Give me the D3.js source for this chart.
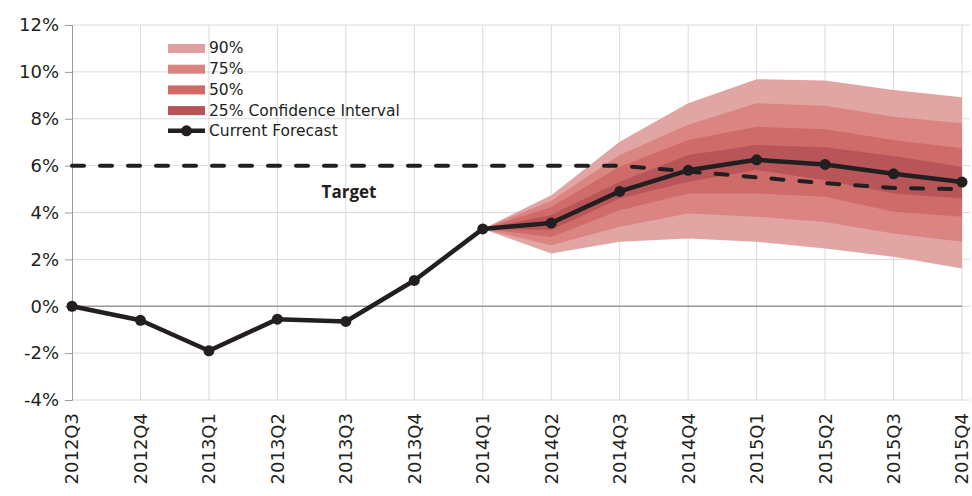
<!DOCTYPE html>
<html>
<head>
<meta charset="utf-8">
<script src="https://cdn.jsdelivr.net/npm/d3@7"></script>
<style>
  body { margin: 0; background: #fff; }
  svg { display: block; }
</style>
</head>
<body>
<div id="chart"></div>
<script>
(function () {
  'use strict';

  // Quarters on the x axis
  var quarters = ['2012Q3', '2012Q4', '2013Q1', '2013Q2', '2013Q3', '2013Q4', '2014Q1',
    '2014Q2', '2014Q3', '2014Q4', '2015Q1', '2015Q2', '2015Q3', '2015Q4'];

  var yTicks = [-4, -2, 0, 2, 4, 6, 8, 10, 12];

  // Current forecast (%)
  var forecast = [0, -0.6, -1.9, -0.55, -0.65, 1.1, 3.3, 3.55, 4.9, 5.8, 6.25, 6.05, 5.65, 5.3];
  // Target (%)
  var target = [6, 6, 6, 6, 6, 6, 6, 6, 6, 5.75, 5.5, 5.25, 5.05, 5.0];

  // Fan bands, 2014Q1 .. 2015Q4
  var fanQuarters = quarters.slice(6);
  var band90Upper = [3.3, 4.74, 7.02, 8.66, 9.69, 9.63, 9.23, 8.92];
  var band75Upper = [3.3, 4.5, 6.45, 7.74, 8.66, 8.55, 8.09, 7.81];
  var band50Upper = [3.3, 4.24, 5.95, 7.09, 7.66, 7.55, 7.09, 6.74];
  var band25Upper = [3.3, 3.89, 5.31, 6.45, 6.88, 6.78, 6.41, 5.95];
  var band25Lower = [3.3, 3.25, 4.6, 5.31, 5.81, 5.38, 4.81, 4.6];
  var band50Lower = [3.3, 2.96, 4.1, 4.81, 4.81, 4.67, 4.03, 3.82];
  var band75Lower = [3.3, 2.6, 3.39, 3.96, 3.82, 3.6, 3.1, 2.75];
  var band90Lower = [3.3, 2.25, 2.75, 2.89, 2.75, 2.46, 2.11, 1.61];

  var bands = [
    { label: '90%', color: '#dfa09f', upper: band90Upper, lower: band90Lower },
    { label: '75%', color: '#d9837f', upper: band75Upper, lower: band75Lower },
    { label: '50%', color: '#cf6a67', upper: band50Upper, lower: band50Lower },
    { label: '25% Confidence Interval', color: '#b65457', upper: band25Upper, lower: band25Lower }
  ];

  var W = 972, H = 496;
  var axisFont = '"DejaVu Sans", sans-serif';
  var ink = '#231f20';

  var svg = d3.select('#chart').append('svg').attr('width', W).attr('height', H);

  var x = d3.scalePoint().domain(quarters).range([72, 962]);
  var y = d3.scaleLinear().domain([-4, 12]).range([400, 25]);

  // Grid
  var grid = svg.append('g');
  grid.selectAll('.hg').data(yTicks).enter().append('line')
    .attr('x1', 72).attr('x2', 970)
    .attr('y1', function (d) { return y(d); }).attr('y2', function (d) { return y(d); })
    .attr('stroke', '#dadada').attr('stroke-width', 1);
  grid.selectAll('.vg').data(quarters.slice(1)).enter().append('line')
    .attr('x1', function (d) { return x(d); }).attr('x2', function (d) { return x(d); })
    .attr('y1', y(12)).attr('y2', y(-4))
    .attr('stroke', '#dadada').attr('stroke-width', 1);

  // Fan bands
  bands.forEach(function (b) {
    var area = d3.area()
      .x(function (d, i) { return x(fanQuarters[i]); })
      .y0(function (d, i) { return y(b.lower[i]); })
      .y1(function (d) { return y(d); });
    svg.append('path').datum(b.upper)
      .attr('d', area).attr('fill', b.color).attr('opacity', 0.95);
  });

  // Zero line
  svg.append('line').attr('x1', 72).attr('x2', 962)
    .attr('y1', y(0)).attr('y2', y(0))
    .attr('stroke', '#9a9a9a').attr('stroke-width', 1.5);

  // Y axis
  var yAxis = svg.append('g').attr('transform', 'translate(72,0)')
    .call(d3.axisLeft(y).tickValues(yTicks).tickSize(7).tickPadding(6)
      .tickFormat(function (d) { return d + '%'; }));
  yAxis.select('.domain').attr('stroke', '#9a9a9a');
  yAxis.selectAll('.tick line').attr('stroke', '#9a9a9a');
  yAxis.selectAll('text').attr('font-family', axisFont).attr('font-size', 18).attr('fill', ink);

  // X labels
  svg.append('g').selectAll('text').data(quarters).enter().append('text')
    .attr('transform', function (d) { return 'translate(' + x(d) + ',413) rotate(-90)'; })
    .attr('text-anchor', 'end').attr('dy', '0.36em')
    .attr('font-family', axisFont).attr('font-size', 18).attr('fill', ink)
    .text(function (d) { return d; });

  // Target dashed
  var tLine = d3.line().x(function (d, i) { return x(quarters[i]); }).y(function (d) { return y(d); });
  svg.append('path').datum(target).attr('d', tLine)
    .attr('fill', 'none').attr('stroke', ink).attr('stroke-width', 4)
    .attr('stroke-dasharray', '12,16').attr('stroke-linecap', 'round');

  svg.append('text').attr('x', 349).attr('y', 198).attr('text-anchor', 'middle')
    .attr('font-family', '"Open Sans", sans-serif').attr('font-weight', 'bold')
    .attr('font-size', 17).attr('fill', ink).text('Target');

  // Forecast line
  svg.append('path').datum(forecast).attr('d', tLine)
    .attr('fill', 'none').attr('stroke', ink).attr('stroke-width', 4.5)
    .attr('stroke-linejoin', 'round');
  svg.selectAll('.pt').data(forecast).enter().append('circle')
    .attr('cx', function (d, i) { return x(quarters[i]); })
    .attr('cy', function (d) { return y(d); })
    .attr('r', 5.5).attr('fill', ink);

  // Legend
  var legend = svg.append('g').attr('transform', 'translate(168,48)');
  bands.forEach(function (b, i) {
    legend.append('rect').attr('x', 0).attr('y', i * 20.7 - 4).attr('width', 37).attr('height', 9)
      .attr('fill', b.color);
    legend.append('text').attr('x', 41).attr('y', i * 20.7).attr('dy', '0.35em')
      .attr('font-family', axisFont).attr('font-size', 15.5).attr('fill', ink).text(b.label);
  });
  var ly = 4 * 20.7;
  legend.append('line').attr('x1', 0).attr('x2', 37).attr('y1', ly).attr('y2', ly)
    .attr('stroke', ink).attr('stroke-width', 4.5);
  legend.append('circle').attr('cx', 18.5).attr('cy', ly).attr('r', 5.5).attr('fill', ink);
  legend.append('text').attr('x', 41).attr('y', ly).attr('dy', '0.35em')
    .attr('font-family', axisFont).attr('font-size', 15.5).attr('fill', ink).text('Current Forecast');
})();
</script>
</body>
</html>
